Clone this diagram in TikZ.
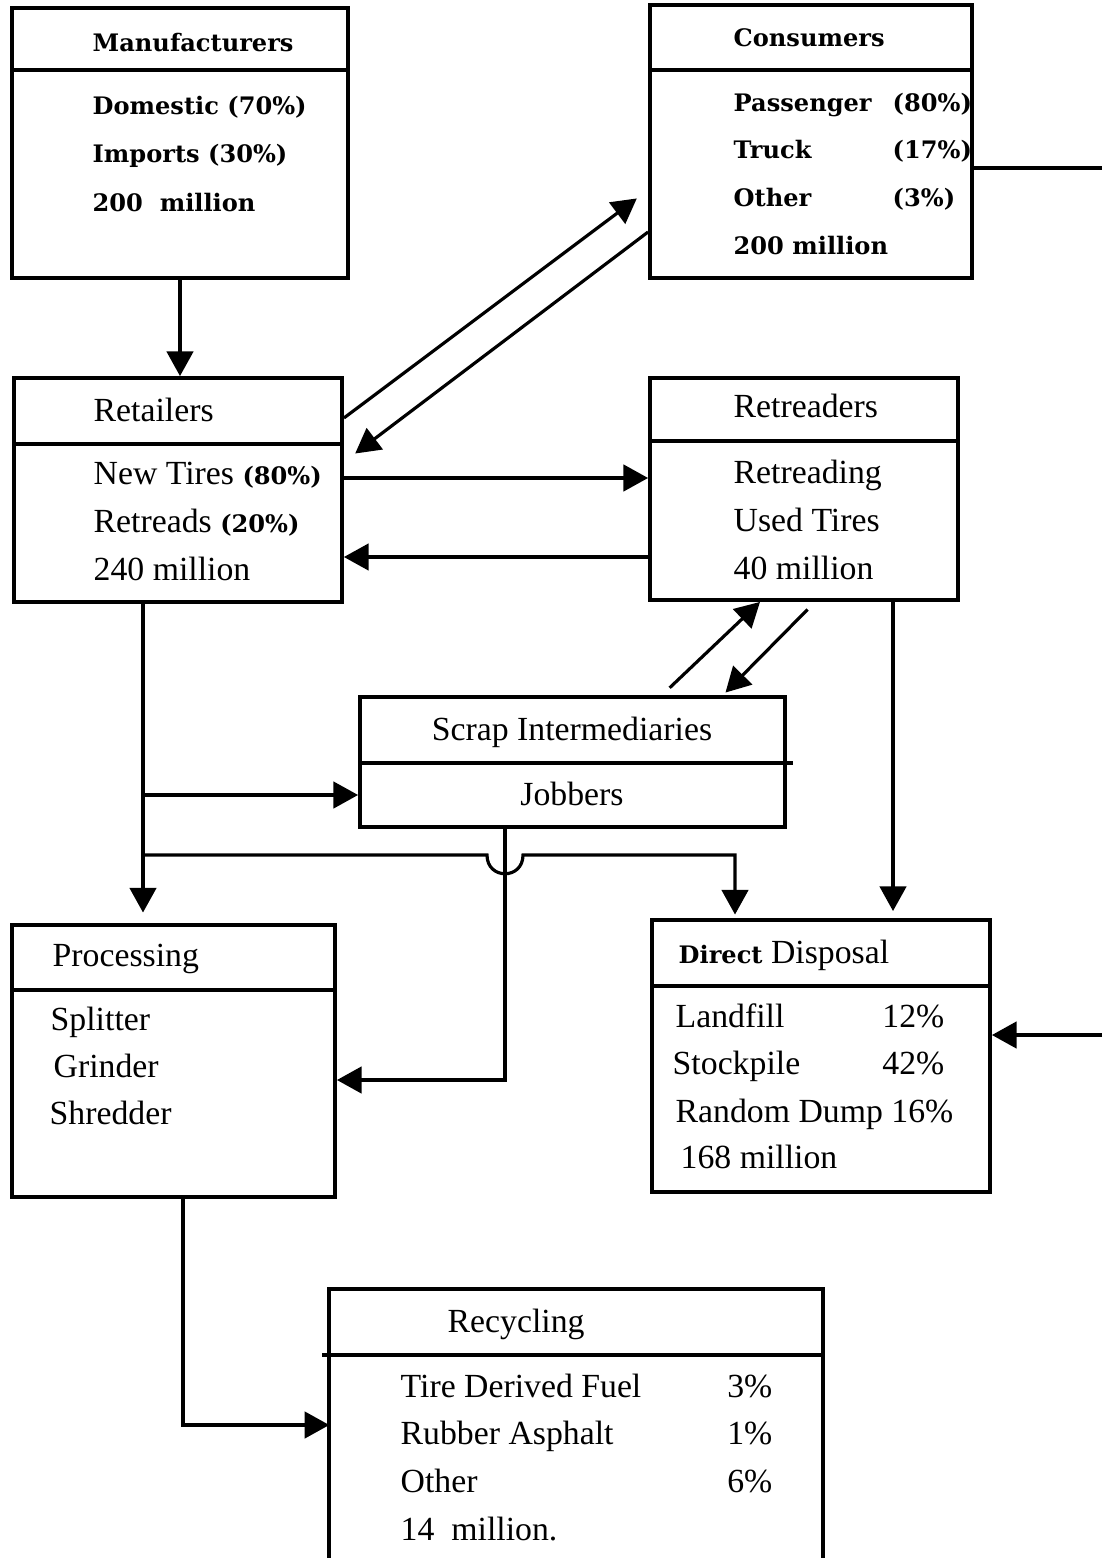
\documentclass[tikz,border=0pt]{standalone}
\usepackage{fontspec}
\setmainfont{Liberation Serif}
\newfontfamily\typefont{DejaVu Serif}
\usetikzlibrary{arrows.meta}
\usetikzlibrary{fit}
\newcommand{\tw}{\typefont\bfseries\fontsize{6.85}{8}\selectfont}

\begin{document}
\begin{tikzpicture}[x=0.01cm, y=-0.01cm,
			box/.style  = {draw, black, line width=1.1pt, inner sep=0pt},
			div/.style  = {black, line width=1.1pt},
			txt/.style  = {anchor=base west, inner sep=0pt, font=\fontsize{9.6}{12}\selectfont},
			ctxt/.style = {anchor=base, inner sep=0pt, font=\fontsize{9.6}{12}\selectfont},
			pct/.style  = {anchor=base east, inner sep=0pt, font=\fontsize{9.6}{12}\selectfont},
			ttxt/.style = {anchor=base west, inner sep=0pt, font=\tw},
			flow/.style = {black, line width=0.9pt, -{Triangle[length=7pt, width=7.5pt]}},
			wire/.style = {black, line width=0.9pt},]

			\useasboundingbox (0,0) rectangle (1102,1558);

			%% MANUFACTURERS AND CONSUMERS AT THE TOP
			\node[box, fit={(12,8) (348,278)}] (manu) {};
			\draw[div] (manu.west |- 0,70) -- (manu.east |- 0,70);
			\node[ttxt] (manuT) at (92,52) {Manufacturers};
			\node[ttxt] (manu1) at (92,115) {Domestic (70\%)};
			\node[ttxt] (manu2) at (92,163) {Imports (30\%)};
			\node[ttxt] (manu3) at (92,212) {200~~million};

			\node[box, fit={(650,5) (972,278)}] (cons) {};
			\draw[div] (cons.west |- 0,70) -- (cons.east |- 0,70);
			\node[ttxt] (consT) at (733,47) {Consumers};
			\node[ttxt] (cons1) at (733,112) {Passenger};
			\node[ttxt] (cons2) at (733,159) {Truck};
			\node[ttxt] (cons3) at (733,207) {Other};
			\node[ttxt] (cons4) at (733,255) {200 million};
			\node[ttxt] (consP1) at (892,112) {(80\%)};
			\node[ttxt] (consP2) at (892,159) {(17\%)};
			\node[ttxt] (consP3) at (892,207) {(3\%)};

			%% RETAILERS AND RETREADERS
			\node[box, fit={(14,378) (342,602)}] (retail) {};
			\draw[div] (retail.west |- 0,444) -- (retail.east |- 0,444);
			\node[txt] (retailT) at (93,421) {Retailers};
			\node[txt] (retail1) at (93,485) {New Tires {\tw(80\%)}};
			\node[txt] (retail2) at (93,532) {Retreads {\tw(20\%)}};
			\node[txt] (retail3) at (93,580) {240 million};

			\node[box, fit={(650,378) (958,600)}] (retread) {};
			\draw[div] (retread.west |- 0,441) -- (retread.east |- 0,441);
			\node[txt] (retreadT) at (733,418) {Retreaders};
			\node[txt] (retread1) at (733,483) {Retreading};
			\node[txt] (retread2) at (733,531) {Used Tires};
			\node[txt] (retread3) at (733,579) {40 million};

			%% SCRAP INTERMEDIARIES
			\node[box, fit={(360,697) (785,827)}] (scrap) {};
			\draw[div] (scrap.west |- 0,763) -- (793,763);
			\node[ctxt] (scrapT) at (572,740) {Scrap Intermediaries};
			\node[ctxt] (scrap1) at (572,805) {Jobbers};

			%% PROCESSING AND DIRECT DISPOSAL
			\node[box, fit={(12,925) (335,1197)}] (proc) {};
			\draw[div] (proc.west |- 0,990) -- (proc.east |- 0,990);
			\node[txt] (procT) at (52,966) {Processing};
			\node[txt] (proc1) at (50,1030) {Splitter};
			\node[txt] (proc2) at (53,1077) {Grinder};
			\node[txt] (proc3) at (49,1124) {Shredder};

			\node[box, fit={(652,920) (990,1192)}] (disp) {};
			\draw[div] (disp.west |- 0,986) -- (disp.east |- 0,986);
			\node[txt] (dispT) at (678,963) {{\tw Direct} Disposal};
			\node[txt] (disp1) at (675,1027) {Landfill};
			\node[txt] (disp2) at (672,1074) {Stockpile};
			\node[txt] (disp3) at (675,1122) {Random Dump 16\%};
			\node[txt] (disp4) at (680,1168) {168 million};
			\node[pct] (dispP1) at (945,1027) {12\%};
			\node[pct] (dispP2) at (945,1074) {42\%};

			%% RECYCLING (OPEN AT THE BOTTOM)
			\node[inner sep=0pt, fit={(330,1290) (822,1558)}] (recyc) {};
			\draw[div] (recyc.south west) -- (recyc.north west) -- (recyc.north east) -- (recyc.south east);
			\draw[div] (322,1355) -- (recyc.east |- 0,1355);
			\node[txt] (recycT) at (447,1332) {Recycling};
			\node[txt] (recyc1) at (400,1397) {Tire Derived Fuel};
			\node[txt] (recyc2) at (400,1444) {Rubber Asphalt};
			\node[txt] (recyc3) at (400,1492) {Other};
			\node[txt] (recyc4) at (400,1540) {14\ \ million.};
			\node[pct] (recycP1) at (773,1397) {3\%};
			\node[pct] (recycP2) at (773,1444) {1\%};
			\node[pct] (recycP3) at (773,1492) {6\%};

			%% FLOWS
			\draw[flow] (manu.south) -- (retail.north -| manu.south);
			\draw[flow, shorten >=4pt] (retail.east |- 0,418) -- (cons.west |- 0,190);
			\draw[flow, shorten >=4pt] (cons.west |- 0,232) -- (retail.east |- 0,462);
			\draw[flow] (retail.east |- 0,478) -- (retread.west |- 0,478);
			\draw[flow] (retread.west |- 0,557) -- (retail.east |- 0,557);
			\draw[flow, shorten <=3pt] (scrap.north -| 662,0) -- (retread.south -| 760,0);
			\draw[flow, shorten <=3pt, shorten >=1pt] (retread.south -| 815,0) -- (scrap.north -| 723,0);
			% retailers down to processing, jobbers and disposal
			\draw[flow, shorten >=3pt] (retail.south -| 143,0) -- (proc.north -| 143,0);
			\coordinate (jA) at (143,795);
			\coordinate (jB) at (143,855);
			\draw[flow] (jA) -- (scrap.west |- jA);
			\draw[flow, shorten >=1pt] (jB) -- (487,855) .. controls (487,880) and (523,880) .. (523,855) -- (735,855) -- (disp.north -| 735,0);
			\draw[flow] (scrap.south -| 505,0) -- (505,1080) -- (proc.east |- 0,1080);
			\draw[flow, shorten >=2pt] (retread.south -| 893,0) -- (disp.north -| 893,0);
			\draw[flow] (proc.south -| 183,0) -- (183,1425) -- (recyc.west |- 0,1425);
			% consumers to disposal, off the page
			\coordinate (outA) at (1102,168);
			\coordinate (outB) at (1102,1035);
			\draw[wire] (cons.east |- outA) -- (outA);
			\draw[flow] (outB) -- (disp.east |- outB);
\end{tikzpicture}
\end{document}
